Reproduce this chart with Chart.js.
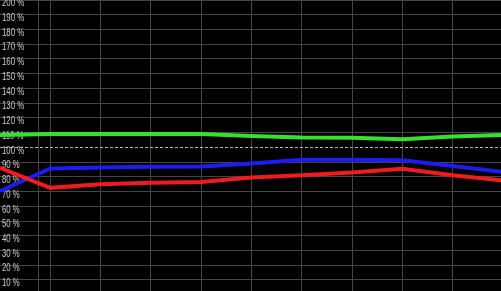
<!DOCTYPE html>
<html>
<head>
<meta charset="utf-8">
<script src="https://cdn.jsdelivr.net/npm/chart.js@4"></script>
<style>
  html, body { margin: 0; padding: 0; background: #000; }
  #wrap { position: relative; width: 501px; height: 291px; }
</style>
</head>
<body>
<div id="wrap"><canvas id="c"></canvas></div>
<script>
// Category positions (sample index along the x axis)
const xIndex = [0, 1, 2, 3, 4, 5, 6, 7, 8, 9, 10];
// Series values in percent
const greenValues = [108.3, 109, 109, 109, 109, 107.7, 106.7, 106.5, 105.5, 107.3, 108.5];
const blueValues  = [70.3, 85.7, 86.4, 86.8, 87, 89, 91.6, 91.6, 91.3, 87.3, 83.2];
const redValues   = [86, 72.5, 75, 76, 76.5, 79.5, 81, 83, 85.5, 81, 77.5];
// Y tick labels (percent)
const yTickValues = [10, 20, 30, 40, 50, 60, 70, 80, 90, 100, 110, 120, 130, 140, 150, 160, 170, 180, 190, 200];
// Vertical grid positions (in x-index units); first one is the label-column separator
const xGridValues = [0.76, 1, 2, 3, 4, 5, 6, 7, 8, 9];
const referenceLevel = 100;

function toPoints(vals) { return vals.map((v, i) => ({ x: xIndex[i], y: v })); }

const gridColor = '#454545';

// Draws the y tick labels inside the plot, under the lines (narrowed sans font)
const insideLabels = {
  id: 'insideLabels',
  beforeDatasetsDraw(chart) {
    const s = chart.scales.y;
    const ctx = chart.ctx;
    ctx.save();
    ctx.fillStyle = '#cccccc';
    ctx.font = '10px "Liberation Sans", Arial, sans-serif';
    ctx.textAlign = 'left';
    ctx.textBaseline = 'middle';
    s.ticks.forEach(t => {
      ctx.save();
      ctx.translate(chart.chartArea.left + 2, s.getPixelForValue(t.value) + 3.5);
      ctx.scale(0.78, 1);
      ctx.fillText(t.value + ' %', 0, 0);
      ctx.restore();
    });
    ctx.restore();
  }
};

new Chart(document.getElementById('c'), {
  type: 'line',
  data: {
    datasets: [
      { label: 'red', data: toPoints(redValues), borderColor: '#ee1c1c', borderWidth: 4, pointRadius: 0, tension: 0 },
      { label: 'blue', data: toPoints(blueValues), borderColor: '#1c1cf0', borderWidth: 4, pointRadius: 0, tension: 0 },
      { label: 'green', data: toPoints(greenValues), borderColor: '#36e02c', borderWidth: 4, pointRadius: 0, tension: 0 }
    ]
  },
  plugins: [insideLabels],
  options: {
    responsive: true,
    maintainAspectRatio: false,
    animation: false,
    devicePixelRatio: 1,
    layout: { padding: 0, autoPadding: false },
    plugins: { legend: { display: false }, tooltip: { enabled: false } },
    scales: {
      x: {
        type: 'linear',
        min: 0,
        max: 9.96,
        afterBuildTicks: (s) => { s.ticks = xGridValues.map(v => ({ value: v })); },
        ticks: { display: false },
        grid: { color: gridColor, lineWidth: 1, drawTicks: false },
        border: { display: false }
      },
      y: {
        type: 'linear',
        min: 2.5,
        max: 200,
        afterBuildTicks: (s) => { s.ticks = yTickValues.map(v => ({ value: v })); },
        ticks: { display: false },
        grid: {
          drawTicks: false,
          lineWidth: 1,
          color: (ctx) => (ctx.tick && ctx.tick.value === referenceLevel) ? '#b8b8b8' : gridColor
        },
        border: {
          display: false,
          dash: (ctx) => (ctx.tick && ctx.tick.value === referenceLevel) ? [3, 2] : []
        }
      }
    }
  }
});
</script>
</body>
</html>
